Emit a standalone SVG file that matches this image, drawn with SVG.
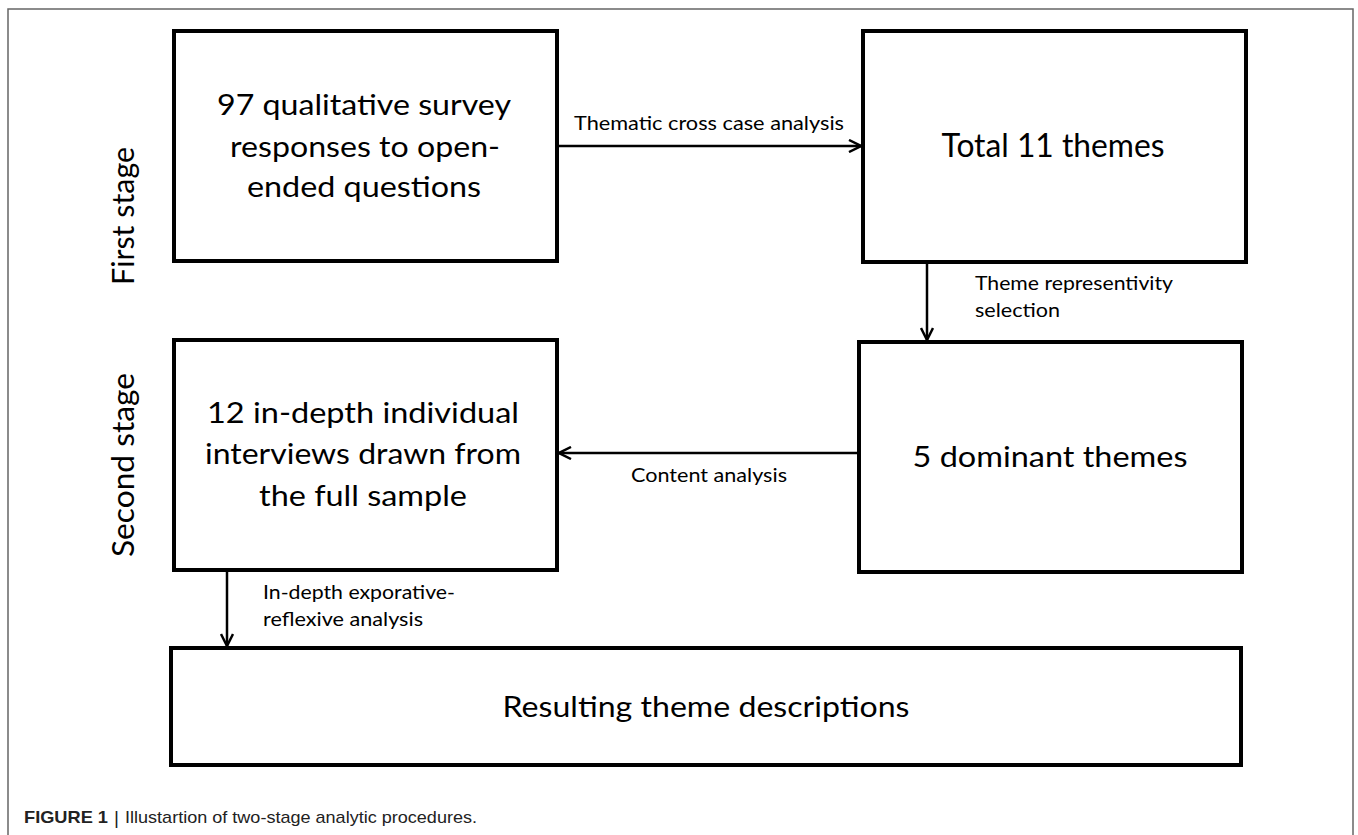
<svg xmlns="http://www.w3.org/2000/svg" width="1358" height="835" viewBox="0 0 1358 835">
<style>
.box{fill:#fff;stroke:#000;stroke-width:4}
.big{font-family:Lato,"Liberation Sans",sans-serif;font-size:29px;fill:#000;text-anchor:middle}
.lbl{font-family:Lato,"Liberation Sans",sans-serif;font-size:20px;fill:#000}
.stage{font-family:Lato,"Liberation Sans",sans-serif;font-size:30px;fill:#000;text-anchor:middle}
.conn{stroke:#000;stroke-width:2.5;fill:none}
.cap{font-family:"Liberation Sans",Arial,sans-serif;font-size:17px;fill:#222}
</style>
<defs>
<marker id="arr" viewBox="0 0 14 14" refX="13" refY="7" markerWidth="14" markerHeight="14" markerUnits="userSpaceOnUse" orient="auto">
<path d="M1,1 L13,7 L1,13" fill="none" stroke="#000" stroke-width="2.5"/>
</marker>
</defs>
<rect x="0" y="0" width="1358" height="835" fill="#fff"/>
<path d="M8,835 V9 H1353 V835" fill="none" stroke="#666" stroke-width="1.5"/>
<g id="stage-labels">
<text class="stage" transform="translate(134,216) rotate(-90)" textLength="138" lengthAdjust="spacingAndGlyphs">First stage</text>
<text class="stage" transform="translate(134,465) rotate(-90)" textLength="184" lengthAdjust="spacingAndGlyphs">Second stage</text>
</g>
<g id="connectors">
<path class="conn" d="M557,146 H861" marker-end="url(#arr)"/>
<path class="conn" d="M927,262 V340" marker-end="url(#arr)"/>
<path class="conn" d="M859,453 H559" marker-end="url(#arr)"/>
<path class="conn" d="M227,570 V646" marker-end="url(#arr)"/>
<text class="lbl" x="574" y="130" textLength="270" lengthAdjust="spacingAndGlyphs">Thematic cross case analysis</text>
<text class="lbl" x="975" y="290" textLength="198" lengthAdjust="spacingAndGlyphs">Theme representivity</text>
<text class="lbl" x="975" y="317" textLength="85" lengthAdjust="spacingAndGlyphs">selection</text>
<text class="lbl" x="631" y="482" textLength="156" lengthAdjust="spacingAndGlyphs">Content analysis</text>
<text class="lbl" x="263" y="599" textLength="192" lengthAdjust="spacingAndGlyphs">In-depth exporative-</text>
<text class="lbl" x="263" y="626" textLength="160" lengthAdjust="spacingAndGlyphs">reflexive analysis</text>
</g>
<g id="node-survey">
<rect class="box" x="174" y="31" width="383" height="230"/>
<text class="big" x="364" y="115" textLength="294" lengthAdjust="spacingAndGlyphs">97 qualitative survey</text>
<text class="big" x="365" y="157" textLength="270" lengthAdjust="spacingAndGlyphs">responses to open-</text>
<text class="big" x="364" y="197" textLength="234" lengthAdjust="spacingAndGlyphs">ended questions</text>
</g>
<g id="node-total">
<rect class="box" x="863" y="31" width="383" height="231"/>
<text class="big" x="1053" y="157" style="font-size:32px" textLength="223" lengthAdjust="spacingAndGlyphs">Total 11 themes</text>
</g>
<g id="node-interviews">
<rect class="box" x="174" y="340" width="383" height="230"/>
<text class="big" x="363" y="423" textLength="312" lengthAdjust="spacingAndGlyphs">12 in-depth individual</text>
<text class="big" x="363" y="464" textLength="316" lengthAdjust="spacingAndGlyphs">interviews drawn from</text>
<text class="big" x="363" y="506" textLength="208" lengthAdjust="spacingAndGlyphs">the full sample</text>
</g>
<g id="node-dominant">
<rect class="box" x="859" y="342" width="383" height="230"/>
<text class="big" x="1050" y="467" textLength="275" lengthAdjust="spacingAndGlyphs">5 dominant themes</text>
</g>
<g id="node-result">
<rect class="box" x="171" y="648" width="1070" height="117"/>
<text class="big" x="706" y="717" textLength="407" lengthAdjust="spacingAndGlyphs">Resulting theme descriptions</text>
</g>
<g id="caption">
<text class="cap" x="24" y="823" font-weight="bold" textLength="84" lengthAdjust="spacingAndGlyphs">FIGURE 1</text>
<text class="cap" x="114" y="824" style="font-size:19px">|</text>
<text class="cap" x="125" y="823" textLength="352" lengthAdjust="spacingAndGlyphs">Illustartion of two-stage analytic procedures.</text>
</g>
</svg>
